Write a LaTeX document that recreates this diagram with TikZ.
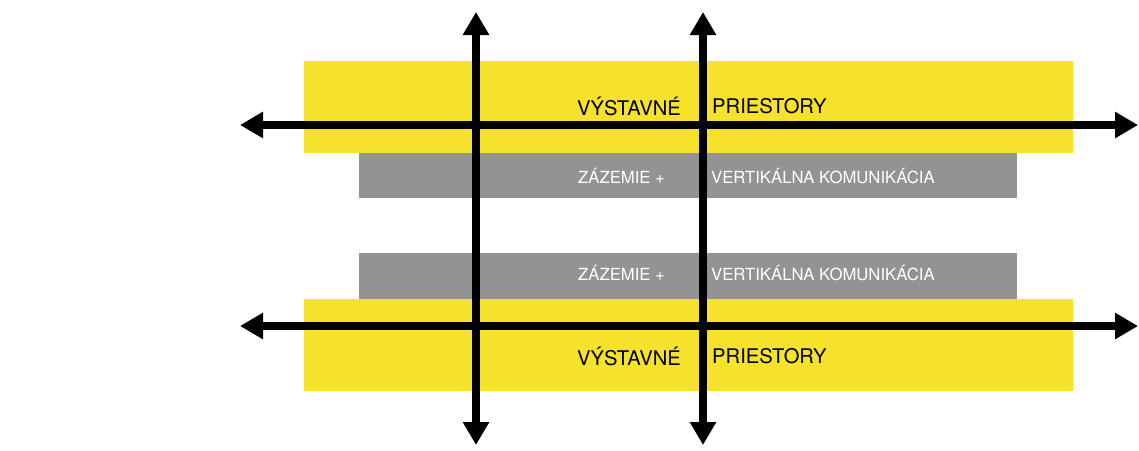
\documentclass[tikz,border=0pt]{standalone}
\usepackage{fontspec}
\setmainfont{TeX Gyre Heros}
\usetikzlibrary{arrows.meta}
\definecolor{ylw}{HTML}{F6E12D}
\definecolor{gry}{HTML}{939393}
\begin{document}
\begin{tikzpicture}[x=1pt,y=-1pt,
  ybox/.style={fill=ylw,draw=none},
  gbox/.style={fill=gry,draw=none},
  arr/.style={line width=8pt,draw=black,{Triangle[length=23pt,width=25pt]}-{Triangle[length=23pt,width=25pt]}},
  ytext/.style={font=\fontsize{20.2}{23}\selectfont,text=black,inner sep=0pt},
  gtext/.style={font=\fontsize{16.7}{19}\selectfont,text=white,inner sep=0pt}]
\useasboundingbox (0,0) rectangle (1139,450);
% bands
\fill[ybox] (304,61) rectangle (1073,153);
\fill[gbox] (359,153) rectangle (1017,198);
\fill[gbox] (359,253) rectangle (1017,299);
\fill[ybox] (304,299) rectangle (1073,391);
% texts
\node[ytext,anchor=east] (v1) at (681,106) {VÝSTAVNÉ};
\node[ytext,anchor=west] (p1) at (712,106) {PRIESTORY};
\node[gtext,anchor=west] (z1) at (578,176) {ZÁZEMIE +};
\node[gtext,anchor=west] (k1) at (711,176) {VERTIKÁLNA KOMUNIKÁCIA};
\node[gtext,anchor=west] (z2) at (578,273) {ZÁZEMIE +};
\node[gtext,anchor=west] (k2) at (711,273) {VERTIKÁLNA KOMUNIKÁCIA};
\node[ytext,anchor=east] (v2) at (681,356) {VÝSTAVNÉ};
\node[ytext,anchor=west] (p2) at (712,356) {PRIESTORY};
% arrow ends
\coordinate (h1l) at (240,125);
\coordinate (h1r) at (1138,125);
\coordinate (h2l) at (240,326);
\coordinate (h2r) at (1138,326);
\coordinate (v1t) at (476,12);
\coordinate (v1b) at (476,445);
\coordinate (v2t) at (703,12);
\coordinate (v2b) at (703,445);
\draw[arr] (h1l) -- (h1r);
\draw[arr] (h2l) -- (h2r);
\draw[arr] (v1t) -- (v1b);
\draw[arr] (v2t) -- (v2b);
\end{tikzpicture}
\end{document}
